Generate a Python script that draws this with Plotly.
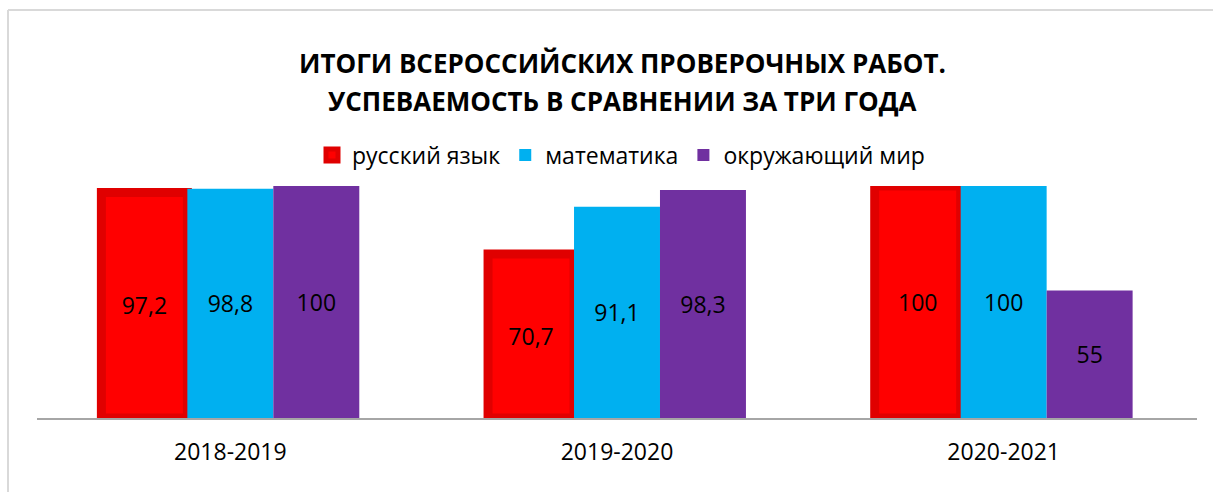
import plotly.graph_objects as go

categories = ["2018-2019", "2019-2020", "2020-2021"]
series_names = ["русский язык", "математика", "окружающий мир"]
russian = [97.2, 70.7, 100]
math = [98.8, 91.1, 100]
world = [100, 98.3, 55]
title_lines = ["ИТОГИ ВСЕРОССИЙСКИХ ПРОВЕРОЧНЫХ РАБОТ.", "УСПЕВАЕМОСТЬ В СРАВНЕНИИ ЗА ТРИ ГОДА"]

colors = ["#FF0000", "#00B0F0", "#7030A0"]
FONT = "Open Sans"

PLOT_TOP, PLOT_BOTTOM, PLOT_LEFT, PLOT_RIGHT = 186, 418, 37, 1197
PH = PLOT_BOTTOM - PLOT_TOP
PW = PLOT_RIGHT - PLOT_LEFT

def py(pix):
    return (PLOT_BOTTOM - pix) / PH

def px(pix):
    return (pix - PLOT_LEFT) / PW

def fmt(v):
    return ("%g" % v).replace(".", ",")

fig = go.Figure()
for name, vals, col in zip(series_names, [russian, math, world], colors):
    line = dict(width=0)
    if col == "#FF0000":
        line = dict(width=9, color="#E00000")
    fig.add_trace(go.Bar(
        x=categories, y=vals, name=name,
        marker=dict(color=col, line=line),
        text=[fmt(v) for v in vals],
        textposition="inside", insidetextanchor="middle",
        textfont=dict(size=23, color="black", family=FONT),
        textangle=0,
    ))

fig.update_layout(
    width=1213, height=492,
    margin=dict(l=PLOT_LEFT, r=1213 - PLOT_RIGHT, t=PLOT_TOP, b=492 - PLOT_BOTTOM),
    paper_bgcolor="white", plot_bgcolor="white",
    barmode="group", bargap=0.333, bargroupgap=0,
    legend=dict(
        orientation="h", x=px(621), xanchor="center", y=py(155), yanchor="middle",
        font=dict(family=FONT, size=23, color="black"),
        traceorder="normal", itemwidth=30,
    ),
    xaxis=dict(showline=True, linecolor="#A6A6A6", linewidth=2,
               ticks="outside", ticklen=12, tickcolor="rgba(0,0,0,0)",
               tickfont=dict(family=FONT, size=23, color="black"), showgrid=False),
    yaxis=dict(range=[0, 100], visible=False, showgrid=False),
    showlegend=True,
)

for txt, cy in zip(title_lines, [63, 101]):
    fig.add_annotation(text="<b>" + txt + "</b>", xref="paper", yref="paper",
                       x=px(622), y=py(cy), xanchor="center", yanchor="middle",
                       showarrow=False, font=dict(family=FONT, size=26, color="black"))

border = dict(color="#D9D9D9", width=2)
fig.add_shape(type="line", xref="paper", yref="paper",
              x0=px(8), x1=px(1213), y0=py(10), y1=py(10), line=border, layer="below")
fig.add_shape(type="line", xref="paper", yref="paper",
              x0=px(8), x1=px(8), y0=py(10), y1=py(492), line=border, layer="below")

fig.write_html("out.html", config={"displayModeBar": False},
               post_script="document.body.style.margin='0';")
